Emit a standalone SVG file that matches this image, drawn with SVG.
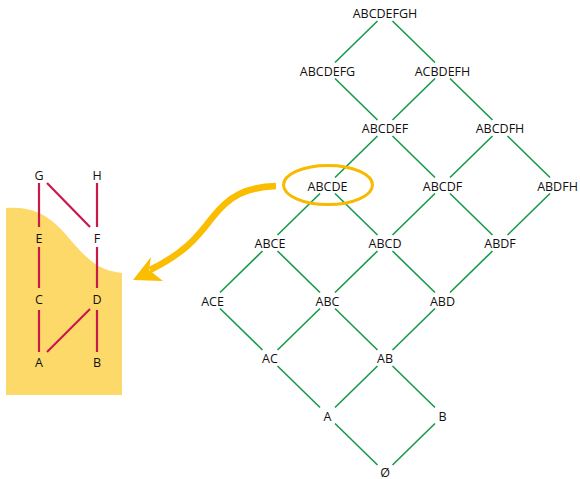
<svg xmlns="http://www.w3.org/2000/svg" width="580" height="479" viewBox="0 0 580 479">
  <style>
    text { font-family: "Open Sans", "Noto Sans", "Liberation Sans", sans-serif; font-size: 12.5px; fill: #111111; text-anchor: middle; }
    .edge { stroke: #17994a; stroke-width: 1.6; fill: none; }
    .red { stroke: #c8194b; stroke-width: 2.2; fill: none; }
    .hl { stroke: #f8b900; fill: none; }
  </style>
  <rect width="580" height="479" fill="#ffffff"/>

  <!-- left panel: shaded region and small poset -->
  <g id="panel">
    <path d="M6,208 C40,205 56,222 75,245 C94,267 106,271 122,273 L122,395 L6,395 Z" fill="#fdd96a"/>
    <g id="red-lines">
      <line class="red" x1="39" y1="183" x2="39" y2="227"/>
      <line class="red" x1="39" y1="247" x2="39" y2="288"/>
      <line class="red" x1="39" y1="310" x2="39" y2="352"/>
      <line class="red" x1="97" y1="183" x2="97" y2="227"/>
      <line class="red" x1="97" y1="247" x2="97" y2="288"/>
      <line class="red" x1="97" y1="310" x2="97" y2="352"/>
      <line class="red" x1="47" y1="183" x2="90" y2="227"/>
      <line class="red" x1="90" y1="309" x2="47" y2="352"/>
    </g>
    <g id="p-G"><text x="39" y="179.5">G</text></g>
    <g id="p-H"><text x="97" y="179.5">H</text></g>
    <g id="p-E"><text x="39" y="242.5">E</text></g>
    <g id="p-F"><text x="97" y="242.5">F</text></g>
    <g id="p-C"><text x="39" y="303.5">C</text></g>
    <g id="p-D"><text x="97" y="303.5">D</text></g>
    <g id="p-A"><text x="39" y="366.5">A</text></g>
    <g id="p-B"><text x="97" y="366.5">B</text></g>
  </g>

  <!-- lattice connectors -->
  <g id="connectors">
    <line class="edge" x1="377.5" y1="21" x2="335" y2="62.5"/>
    <line class="edge" x1="392.5" y1="21" x2="435" y2="62.5"/>
    <line class="edge" x1="335" y1="78.5" x2="377.5" y2="120"/>
    <line class="edge" x1="435" y1="78.5" x2="392.5" y2="120"/>
    <line class="edge" x1="450" y1="78.5" x2="492.5" y2="120"/>
    <line class="edge" x1="377.5" y1="136" x2="335" y2="177.5"/>
    <line class="edge" x1="392.5" y1="136" x2="435" y2="177.5"/>
    <line class="edge" x1="492.5" y1="136" x2="450" y2="177.5"/>
    <line class="edge" x1="507.5" y1="136" x2="550" y2="177.5"/>
    <line class="edge" x1="320" y1="193.5" x2="277.5" y2="235"/>
    <line class="edge" x1="335" y1="193.5" x2="377.5" y2="235"/>
    <line class="edge" x1="435" y1="193.5" x2="392.5" y2="235"/>
    <line class="edge" x1="450" y1="193.5" x2="492.5" y2="235"/>
    <line class="edge" x1="550" y1="193.5" x2="507.5" y2="235"/>
    <line class="edge" x1="262.5" y1="251" x2="220" y2="292.5"/>
    <line class="edge" x1="277.5" y1="251" x2="320" y2="292.5"/>
    <line class="edge" x1="377.5" y1="251" x2="335" y2="292.5"/>
    <line class="edge" x1="392.5" y1="251" x2="435" y2="292.5"/>
    <line class="edge" x1="492.5" y1="251" x2="450" y2="292.5"/>
    <line class="edge" x1="220" y1="308.5" x2="262.5" y2="350"/>
    <line class="edge" x1="320" y1="308.5" x2="277.5" y2="350"/>
    <line class="edge" x1="335" y1="308.5" x2="377.5" y2="350"/>
    <line class="edge" x1="435" y1="308.5" x2="392.5" y2="350"/>
    <line class="edge" x1="277.5" y1="366" x2="320" y2="407.5"/>
    <line class="edge" x1="377.5" y1="366" x2="335" y2="407.5"/>
    <line class="edge" x1="392.5" y1="366" x2="435" y2="407.5"/>
    <line class="edge" x1="335" y1="423.5" x2="377.5" y2="465"/>
    <line class="edge" x1="435" y1="423.5" x2="392.5" y2="465"/>
  </g>

  <!-- lattice nodes -->
  <g id="n-ABCDEFGH"><text x="385" y="18">ABCDEFGH</text></g>
  <g id="n-ABCDEFG"><text x="327.5" y="75.5">ABCDEFG</text></g>
  <g id="n-ACBDEFH"><text x="442.5" y="75.5">ACBDEFH</text></g>
  <g id="n-ABCDEF"><text x="385" y="133">ABCDEF</text></g>
  <g id="n-ABCDFH"><text x="500" y="133">ABCDFH</text></g>
  <g id="n-ABCDE">
    <text x="327.5" y="190.5">ABCDE</text>
    <ellipse class="hl" cx="328" cy="185" rx="44.5" ry="19.5" stroke-width="3"/>
  </g>
  <g id="n-ABCDF"><text x="442.5" y="190.5">ABCDF</text></g>
  <g id="n-ABDFH"><text x="557.5" y="190.5">ABDFH</text></g>
  <g id="n-ABCE"><text x="270" y="248">ABCE</text></g>
  <g id="n-ABCD"><text x="385" y="248">ABCD</text></g>
  <g id="n-ABDF"><text x="500" y="248">ABDF</text></g>
  <g id="n-ACE"><text x="212.5" y="305.5">ACE</text></g>
  <g id="n-ABC"><text x="327.5" y="305.5">ABC</text></g>
  <g id="n-ABD"><text x="442.5" y="305.5">ABD</text></g>
  <g id="n-AC"><text x="270" y="363">AC</text></g>
  <g id="n-AB"><text x="385" y="363">AB</text></g>
  <g id="n-A"><text x="327.5" y="420.5">A</text></g>
  <g id="n-B"><text x="442.5" y="420.5">B</text></g>
  <g id="n-empty"><text x="385" y="476.5">Ø</text></g>

  <!-- curved pointer from the highlighted node to the panel -->
  <g id="pointer">
    <path d="M276,186 C246,187 229,196 212,218 C196,239 184,253 150,270" stroke="#fbbd00" stroke-width="6.5" fill="none"/>
    <path d="M133,280 L151,257 L149,270 L163,281 Z" fill="#fbbd00"/>
  </g>
</svg>
